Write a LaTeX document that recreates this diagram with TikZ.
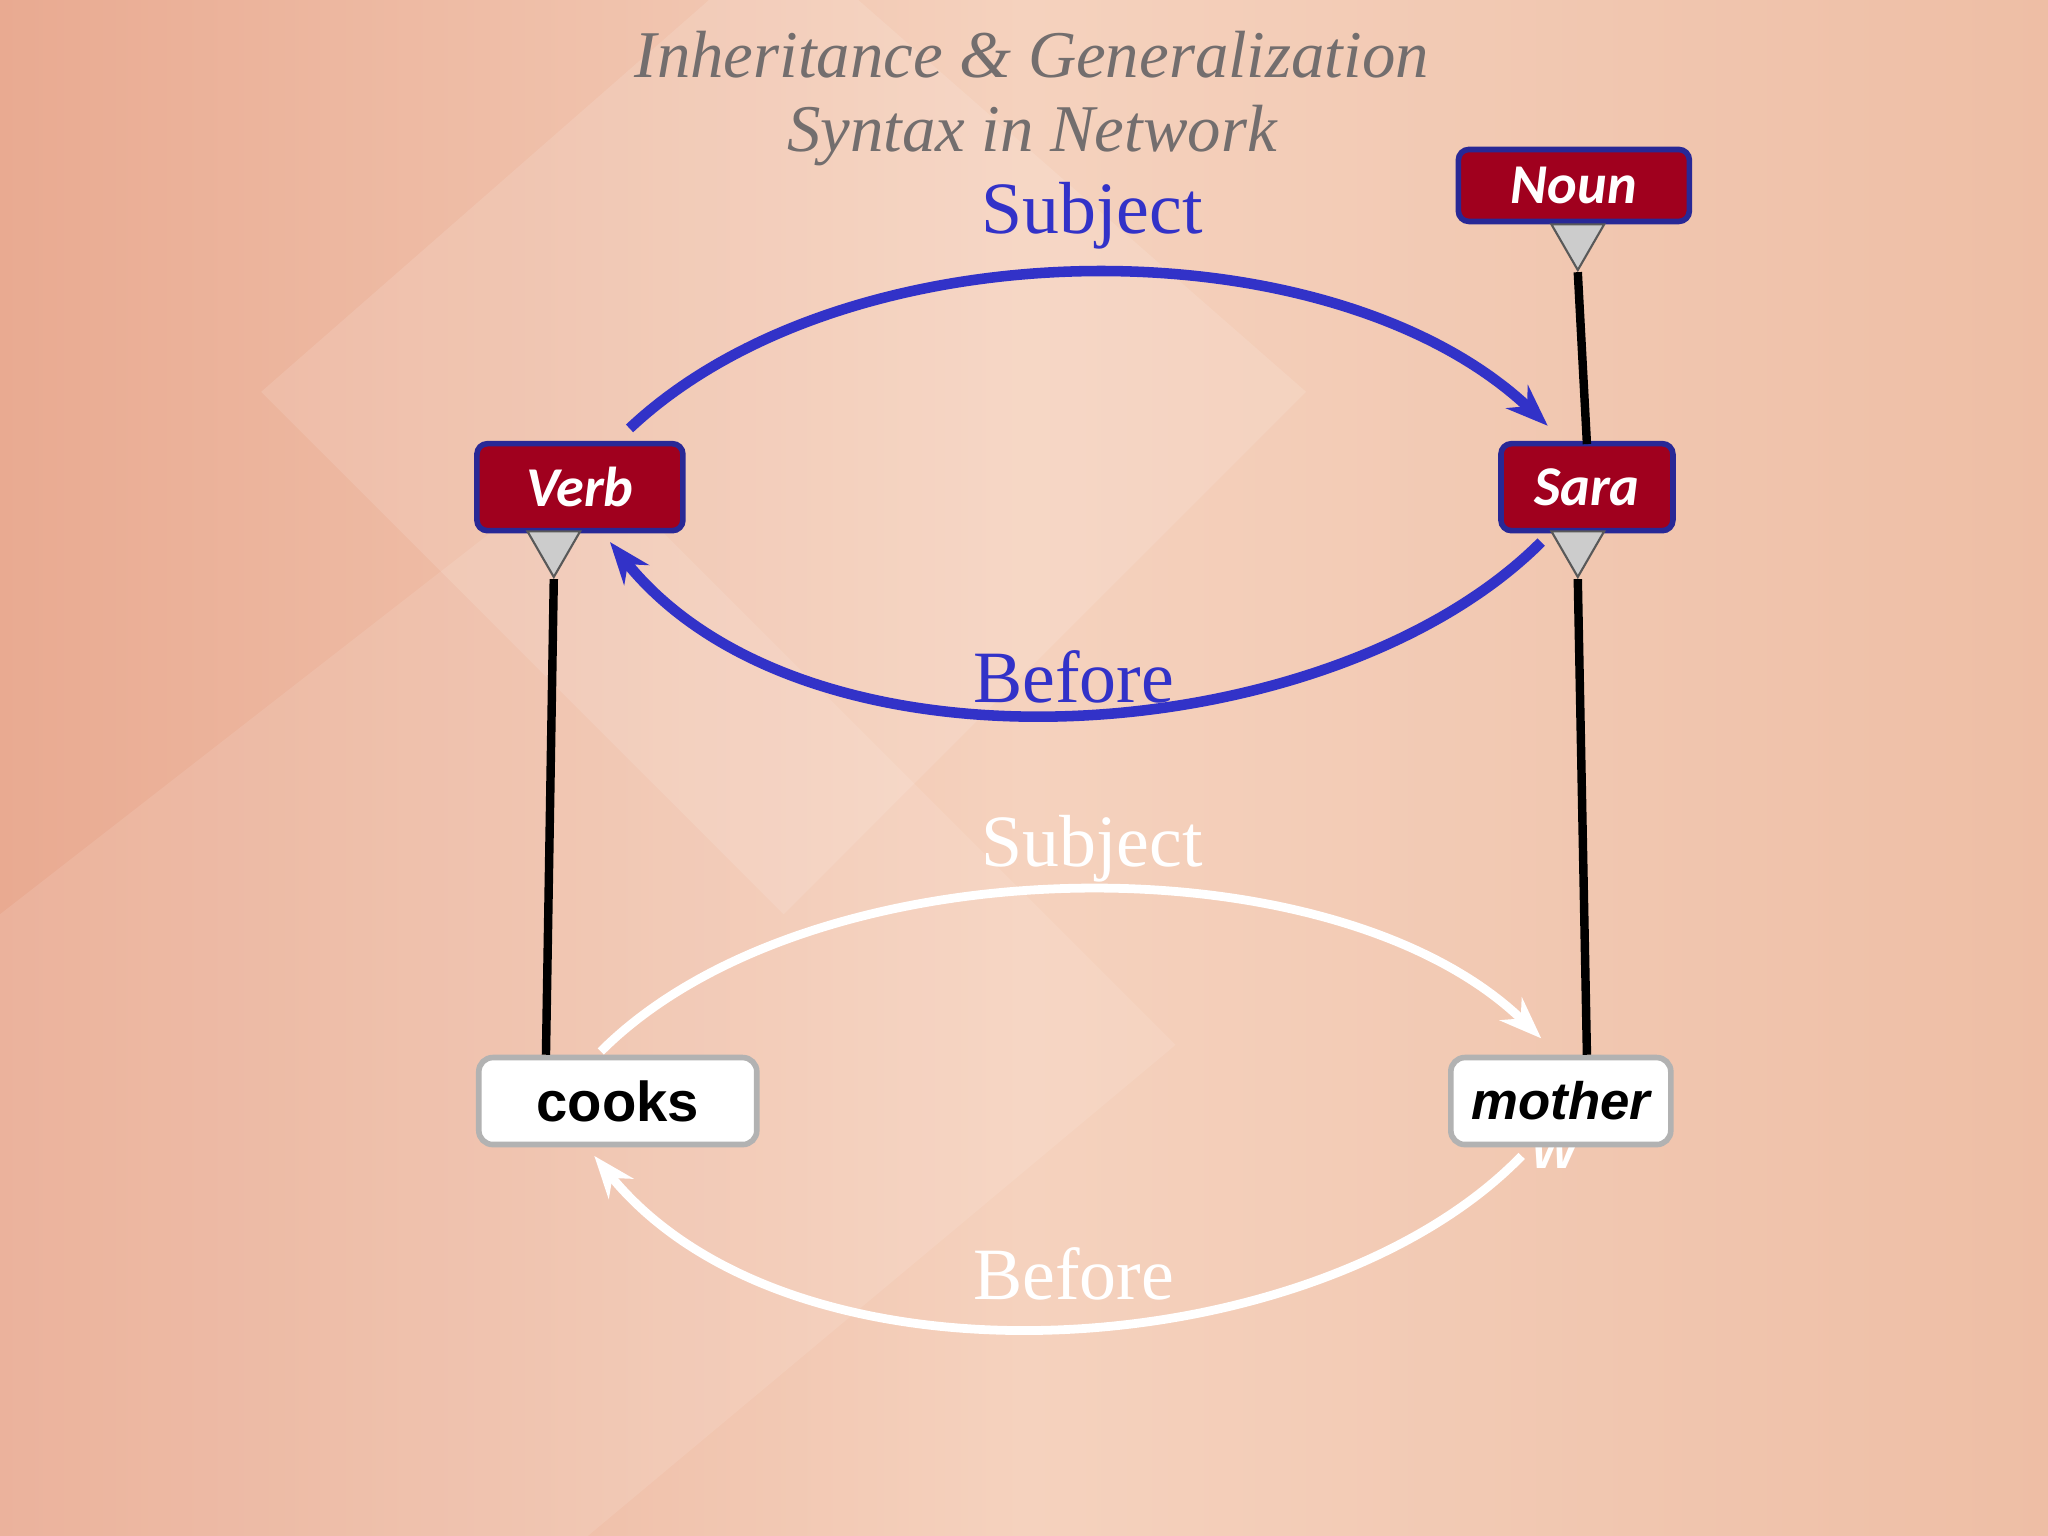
\documentclass[tikz,border=0pt]{standalone}
\usepackage{fontspec}
\setmainfont{Liberation Serif}
\newfontfamily\carl{Carlito}
\newfontfamily\ars{Liberation Sans}
\usetikzlibrary{arrows.meta,shapes.geometric}
\definecolor{bgA}{RGB}{233,170,145}
\definecolor{bgB}{RGB}{245,210,190}
\definecolor{bgC}{RGB}{238,190,165}
\definecolor{dred}{RGB}{160,0,30}
\definecolor{dblue}{RGB}{40,40,150}
\definecolor{arcblue}{RGB}{50,50,200}
\definecolor{ttl}{RGB}{115,110,110}
\tikzset{
 redbox/.style={draw=dblue,line width=1.6pt,fill=dred,rounded corners=3pt,text=white,font=\carl\bfseries\itshape\fontsize{16}{16}\selectfont,inner sep=0pt},
 whitebox/.style={draw=gray!60,line width=1.6pt,fill=white,rounded corners=4pt,text=black,inner sep=0pt},
 tri/.style={draw=gray!70!black,fill=gray!40,line width=0.6pt,isosceles triangle,shape border rotate=-90,isosceles triangle apex angle=60,minimum width=15pt,inner sep=0pt},
 isa/.style={line width=2.4pt,black},
 bluearc/.style={arcblue,line width=3pt,-{Stealth[length=12pt,width=9pt]}},
 whitearc/.style={white,line width=2.5pt,-{Stealth[length=12pt,width=9pt]}},
 lbl/.style={font=\fontsize{21}{21}\selectfont}
}
\begin{document}
\begin{tikzpicture}[x=0.013061cm,y=-0.013061cm]
\useasboundingbox (0,0) rectangle (1568,1176);
\shade[left color=bgA,right color=bgC,middle color=bgB] (0,0) rectangle (1568,1176);
\fill[white,opacity=0.12] (200,300) -- (600,-50) -- (1000,300) -- (600,700) -- cycle;
\fill[white,opacity=0.10] (0,700) -- (450,350) -- (900,800) -- (450,1176) -- (0,1176) -- cycle;
\node[font=\itshape\fontsize{19}{19}\selectfont,text=ttl] (t1) at (790,42) {Inheritance \& Generalization};
\node[font=\itshape\fontsize{19}{19}\selectfont,text=ttl] (t2) at (790,104) {Syntax in Network};
% nodes
\node[redbox,minimum width=2.31cm,minimum height=0.72cm] (noun) at (1205,142) {Noun};
\node[redbox,minimum width=2.06cm,minimum height=0.87cm] (verb) at (444,373) {Verb};
\node[redbox,minimum width=1.72cm,minimum height=0.87cm] (sara) at (1215,373) {Sara};
\node[font=\ars\bfseries\itshape\fontsize{14}{14}\selectfont,text=white] (w) at (1195,882) {W'};
\node[whitebox,minimum width=2.78cm,minimum height=0.87cm,font=\ars\bfseries\fontsize{16}{16}\selectfont] (cooks) at (473,843) {cooks};
\node[whitebox,minimum width=2.2cm,minimum height=0.87cm,font=\ars\bfseries\itshape\fontsize{15}{15}\selectfont] (mother) at (1195,843) {mother};
% triangles
\node[tri,anchor=north] (tn) at (1208,171) {};
\node[tri,anchor=north] (tv) at (424,406) {};
\node[tri,anchor=north] (ts) at (1208,406) {};
% isa lines
\draw[isa] (tn.apex) -- (1215,340);
\draw[isa] (tv.apex) -- (cooks.north -| 418,0);
\draw[isa] (ts.apex) -- (mother.north -| 1215,0);
% blue arcs
\coordinate (bs1) at (482,328); \coordinate (bs2) at (1185,326);
\draw[bluearc] (bs1) .. controls (650,170) and (1020,170) .. (bs2);
\coordinate (bb1) at (1180,415); \coordinate (bb2) at (467,415);
\draw[bluearc] (bb1) .. controls (1020,575) and (620,605) .. (bb2);
\node[lbl,text=arcblue] (ls) at (836,165) {Subject};
\node[lbl,text=arcblue] (lb) at (822,518) {Before};
% white arcs
\coordinate (ws1) at (460,805); \coordinate (ws2) at (1180,795);
\draw[whitearc] (ws1) .. controls (620,645) and (1020,640) .. (ws2);
\coordinate (wb1) at (1165,885); \coordinate (wb2) at (455,885);
\draw[whitearc] (wb1) .. controls (1010,1045) and (610,1075) .. (wb2);
\node[lbl,text=white] (ls2) at (836,650) {Subject};
\node[lbl,text=white] (lb2) at (822,975) {Before};
\end{tikzpicture}
\end{document}
